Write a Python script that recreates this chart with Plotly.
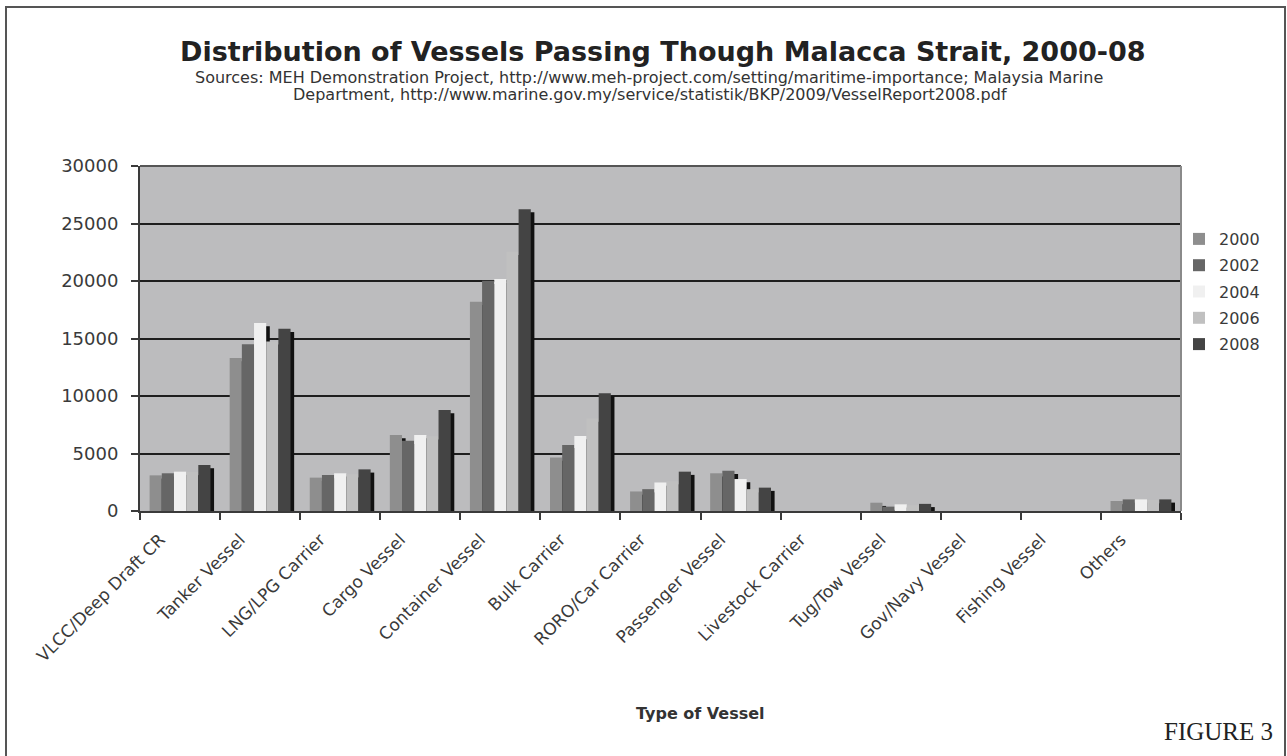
import plotly.graph_objects as go

categories = ["VLCC/Deep Draft CR", "Tanker Vessel", "LNG/LPG Carrier", "Cargo Vessel",
              "Container Vessel", "Bulk Carrier", "RORO/Car Carrier", "Passenger Vessel",
              "Livestock Carrier", "Tug/Tow Vessel", "Gov/Navy Vessel", "Fishing Vessel", "Others"]
years = ["2000", "2002", "2004", "2006", "2008"]

v2000 = [3100, 13300, 2900, 6600, 18200, 4650, 1700, 3280, 0, 720, 0, 0, 870]
v2002 = [3280, 14500, 3130, 6100, 20030, 5750, 1900, 3500, 0, 380, 0, 0, 1010]
v2004 = [3420, 16350, 3280, 6600, 20170, 6520, 2480, 2780, 0, 580, 0, 0, 1010]
v2006 = [3400, 14750, 3200, 6500, 22550, 8050, 2600, 1900, 0, 500, 0, 0, 950]
v2008 = [4000, 15850, 3620, 8780, 26250, 10250, 3420, 2030, 0, 620, 0, 0, 1010]
series = [v2000, v2002, v2004, v2006, v2008]

colors = ["#8e8e8e", "#666666", "#f0f0f0", "#c0c0c0", "#444444"]
y_ticks = [0, 5000, 10000, 15000, 20000, 25000, 30000]

bar_w = 0.152
shadow_dx = 0.045

fig = go.Figure()
for i, (yr, vals, col) in enumerate(zip(years, series, colors)):
    off = -0.38 + i * bar_w
    fig.add_trace(go.Bar(
        x=categories, y=vals, base=-280, offset=off + shadow_dx, width=bar_w,
        marker=dict(color="#111111", line=dict(width=0)),
        showlegend=False, hoverinfo="skip", legendgroup=yr))
    fig.add_trace(go.Bar(
        x=categories, y=vals, name=yr, offset=off, width=bar_w,
        marker=dict(color=col, line=dict(width=0)), legendgroup=yr))

L, R, T, B = 140, 1181, 166, 511
W, H = 1287, 756


def px(xp):
    return (xp - L) / (R - L)


def py(yp):
    return (B - yp) / (B - T)


def note(text, x, y, size, family="DejaVu Sans", color="#333333"):
    return dict(text=text, x=px(x), y=py(y), xref="paper", yref="paper", showarrow=False,
                xanchor="center", yanchor="middle",
                font=dict(size=size, family=family, color=color))


fig.update_layout(
    width=W, height=H,
    margin=dict(l=L, r=W - R, t=T, b=H - B, autoexpand=False),
    barmode="overlay",
    paper_bgcolor="#ffffff",
    plot_bgcolor="#bcbcbe",
    font=dict(family="DejaVu Sans", color="#3a3a3a"),
    legend=dict(x=px(1179), y=py(222), xanchor="left", yanchor="top",
                font=dict(size=16, color="#3a3a3a", family="DejaVu Sans"),
                bgcolor="rgba(0,0,0,0)", tracegroupgap=2.5, itemwidth=30),
    xaxis=dict(
        type="category", tickangle=-45, tickfont=dict(size=17, color="#3a3a3a"),
        showline=True, linecolor="#3a3a3a", linewidth=2,
        ticks="outside", ticklen=7, tickcolor="#3a3a3a", tickwidth=1.5,
        tickson="boundaries", showgrid=False, mirror=False,
        ticklabelshift=-20, ticklabelstandoff=10,
        range=[-0.5, len(categories) - 0.5],
    ),
    yaxis=dict(
        range=[0, 30000], tickvals=y_ticks, ticktext=[str(t) for t in y_ticks],
        tickfont=dict(size=18, color="#3a3a3a"),
        showline=True, linecolor="#3a3a3a", linewidth=2,
        ticks="outside", ticklen=7, tickcolor="#3a3a3a", tickwidth=1.5,
        ticklabelstandoff=9,
        showgrid=True, gridcolor="#1e1e1e", gridwidth=1.5, zeroline=False,
    ),
    shapes=[
        dict(type="rect", xref="paper", yref="paper", x0=px(6), x1=px(1285), y0=py(7), y1=py(770),
             line=dict(color="#555555", width=2), fillcolor="rgba(0,0,0,0)", layer="below"),
        dict(type="line", xref="paper", yref="paper", x0=0, x1=1, y0=1, y1=1,
             line=dict(color="#555555", width=2)),
        dict(type="line", xref="paper", yref="paper", x0=1, x1=1, y0=0, y1=1,
             line=dict(color="#8a8a8a", width=2)),
    ],
    annotations=[
        note("<b>Distribution of Vessels Passing Though Malacca Strait, 2000-08</b>", 663, 52, 27,
             color="#222222"),
        note("Sources: MEH Demonstration Project, http://www.meh-project.com/setting/maritime-importance; Malaysia Marine",
             649, 77.5, 16),
        note("Department, http://www.marine.gov.my/service/statistik/BKP/2009/VesselReport2008.pdf",
             650, 95, 16),
        note("<b>Type of Vessel</b>", 700, 713, 16),
        note("FIGURE 3", 1218, 731, 25, family="Liberation Serif", color="#222222"),
    ],
)

fig.write_html("out.html", config={"displayModeBar": False},
               post_script="document.body.style.margin='0';")
